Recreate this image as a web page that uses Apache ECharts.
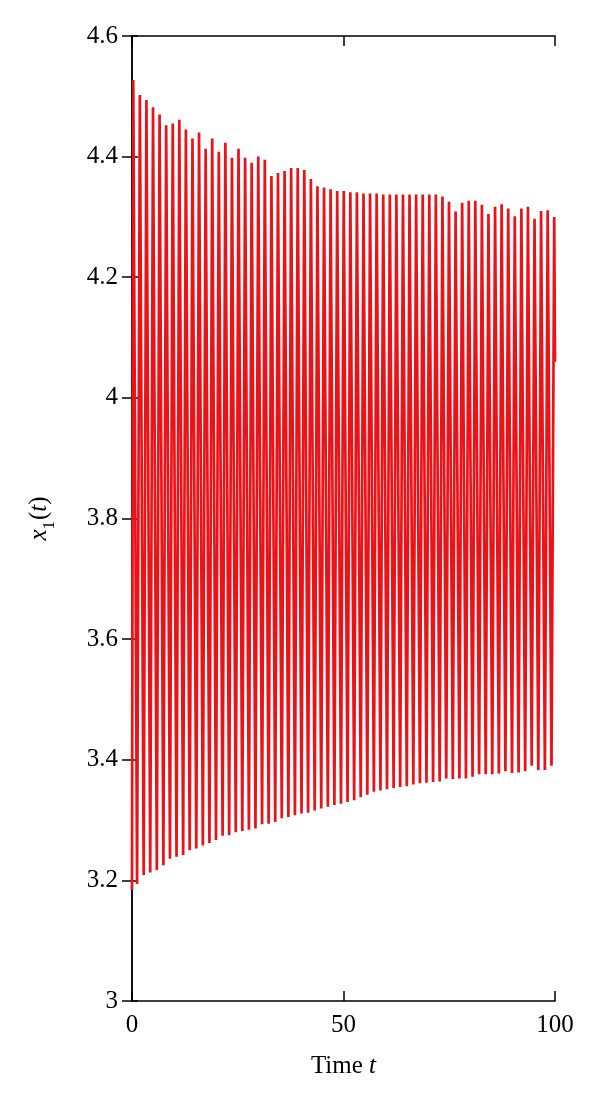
<!DOCTYPE html>
<html>
<head>
<meta charset="utf-8">
<script src="https://cdn.jsdelivr.net/npm/echarts@6/dist/echarts.min.js"></script>
<style>
html,body{margin:0;padding:0;background:#fff;}
#chart{width:600px;height:1113px;}
</style>
</head>
<body>
<div id="chart"></div>
<script>
// Local maxima of x1(t): times and values
var peakTimes = [0.3, 1.86, 3.41, 4.97, 6.52, 8.08, 9.63, 11.19, 12.74, 14.30, 15.85, 17.41, 18.96, 20.52, 22.07, 23.63, 25.18, 26.74, 28.29, 29.85, 31.40, 32.96, 34.51, 36.07, 37.62, 39.18, 40.73, 42.29, 43.84, 45.40, 46.95, 48.51, 50.06, 51.62, 53.17, 54.73, 56.28, 57.84, 59.39, 60.95, 62.50, 64.06, 65.61, 67.17, 68.72, 70.28, 71.83, 73.39, 74.94, 76.50, 78.05, 79.61, 81.16, 82.72, 84.27, 85.83, 87.38, 88.94, 90.49, 92.05, 93.60, 95.16, 96.71, 98.27, 99.82];
var peakValues = [4.527, 4.502, 4.494, 4.482, 4.470, 4.452, 4.455, 4.461, 4.445, 4.430, 4.440, 4.413, 4.430, 4.408, 4.423, 4.398, 4.413, 4.398, 4.390, 4.400, 4.395, 4.368, 4.373, 4.376, 4.381, 4.381, 4.378, 4.363, 4.351, 4.349, 4.346, 4.343, 4.343, 4.341, 4.341, 4.339, 4.339, 4.339, 4.337, 4.337, 4.337, 4.337, 4.337, 4.337, 4.337, 4.337, 4.337, 4.334, 4.325, 4.309, 4.323, 4.327, 4.327, 4.320, 4.305, 4.317, 4.321, 4.314, 4.301, 4.314, 4.317, 4.297, 4.310, 4.311, 4.300];
// Local minima of x1(t)
var troughTimes = [0, 1.20, 2.76, 4.31, 5.87, 7.42, 8.98, 10.53, 12.09, 13.64, 15.20, 16.75, 18.31, 19.86, 21.42, 22.97, 24.53, 26.08, 27.64, 29.19, 30.75, 32.30, 33.86, 35.41, 36.97, 38.52, 40.08, 41.63, 43.19, 44.74, 46.30, 47.85, 49.41, 50.96, 52.52, 54.07, 55.63, 57.18, 58.74, 60.29, 61.85, 63.40, 64.96, 66.51, 68.07, 69.62, 71.18, 72.73, 74.29, 75.84, 77.40, 78.95, 80.51, 82.06, 83.62, 85.17, 86.73, 88.28, 89.84, 91.39, 92.95, 94.50, 96.06, 97.61, 99.17];
var troughValues = [3.184, 3.194, 3.209, 3.213, 3.217, 3.225, 3.236, 3.239, 3.242, 3.250, 3.253, 3.258, 3.262, 3.267, 3.274, 3.275, 3.280, 3.282, 3.284, 3.286, 3.293, 3.294, 3.297, 3.303, 3.305, 3.308, 3.311, 3.312, 3.316, 3.319, 3.322, 3.325, 3.327, 3.330, 3.333, 3.338, 3.342, 3.347, 3.349, 3.351, 3.353, 3.355, 3.356, 3.359, 3.361, 3.362, 3.363, 3.364, 3.369, 3.368, 3.369, 3.369, 3.372, 3.376, 3.376, 3.376, 3.377, 3.381, 3.378, 3.379, 3.381, 3.390, 3.383, 3.383, 3.390];
// Value at the end of the run
var endTime = [100];
var endValue = [4.06];

var xTicks = [0, 50, 100];
var yTicks = [3, 3.2, 3.4, 3.6, 3.8, 4, 4.2, 4.4, 4.6];

var pts = [];
for (var i = 0; i < peakTimes.length; i++) pts.push([peakTimes[i], peakValues[i]]);
for (var j = 0; j < troughTimes.length; j++) pts.push([troughTimes[j], troughValues[j]]);
for (var k = 0; k < endTime.length; k++) pts.push([endTime[k], endValue[k]]);
pts.sort(function (a, b) { return a[0] - b[0]; });

var font = 'Liberation Serif';
var axisCommon = {
  type: 'value',
  axisLine: { show: true, lineStyle: { color: '#000', width: 1.5 } },
  splitLine: { show: false }
};

var chart = echarts.init(document.getElementById('chart'), null, { renderer: 'canvas' });
chart.setOption({
  animation: false,
  backgroundColor: '#fff',
  grid: { left: 132, right: 45, top: 36, bottom: 112, containLabel: false },
  xAxis: [
    Object.assign({}, axisCommon, {
      position: 'bottom', min: xTicks[0], max: xTicks[xTicks.length - 1], interval: xTicks[1] - xTicks[0],
      axisTick: { show: true, inside: true, length: 10, lineStyle: { color: '#000', width: 1.5 } },
      axisLabel: { color: '#000', fontFamily: font, fontSize: 25, margin: 12 },
      name: '{n|Time }{i|t}', nameLocation: 'middle', nameGap: 53,
      nameTextStyle: { rich: {
        n: { fontFamily: font, fontSize: 25, color: '#000' },
        i: { fontFamily: font, fontSize: 25, fontStyle: 'italic', color: '#000' }
      } }
    }),
    Object.assign({}, axisCommon, {
      position: 'top', min: xTicks[0], max: xTicks[xTicks.length - 1], interval: xTicks[1] - xTicks[0],
      axisTick: { show: true, inside: true, length: 10, lineStyle: { color: '#000', width: 1.5 } },
      axisLabel: { show: false }
    })
  ],
  yAxis: [
    Object.assign({}, axisCommon, {
      position: 'left', min: yTicks[0], max: yTicks[yTicks.length - 1], interval: 0.2,
      axisTick: { show: true, inside: true, length: 6, lineStyle: { color: '#000', width: 1.5 } },
      axisLabel: { color: '#000', fontFamily: font, fontSize: 25, margin: 14 },
      name: '{i|x}{s|1}{n|(}{i|t}{n|)}', nameLocation: 'middle', nameGap: 78, nameRotate: 90,
      nameTextStyle: { rich: {
        i: { fontFamily: font, fontSize: 25, fontStyle: 'italic', color: '#000', lineHeight: 30, verticalAlign: 'middle' },
        n: { fontFamily: font, fontSize: 25, color: '#000', lineHeight: 30, verticalAlign: 'middle' },
        s: { fontFamily: font, fontSize: 17, color: '#000', lineHeight: 30, verticalAlign: 'bottom', padding: [0, 1, -4, 0] }
      } }
    }),
    Object.assign({}, axisCommon, {
      position: 'right', min: yTicks[0], max: yTicks[yTicks.length - 1], interval: 0.2,
      axisTick: { show: true, inside: true, length: 10, lineStyle: { color: '#000', width: 1.5 } },
      axisLabel: { show: false }
    })
  ],
  series: [{
    type: 'line',
    data: pts,
    xAxisIndex: 0,
    yAxisIndex: 0,
    showSymbol: false,
    symbol: 'none',
    smooth: false,
    clip: true,
    z: 1,
    lineStyle: { color: '#ec1318', width: 2.7, join: 'miter', miterLimit: 4 }
  }]
});
</script>
</body>
</html>
